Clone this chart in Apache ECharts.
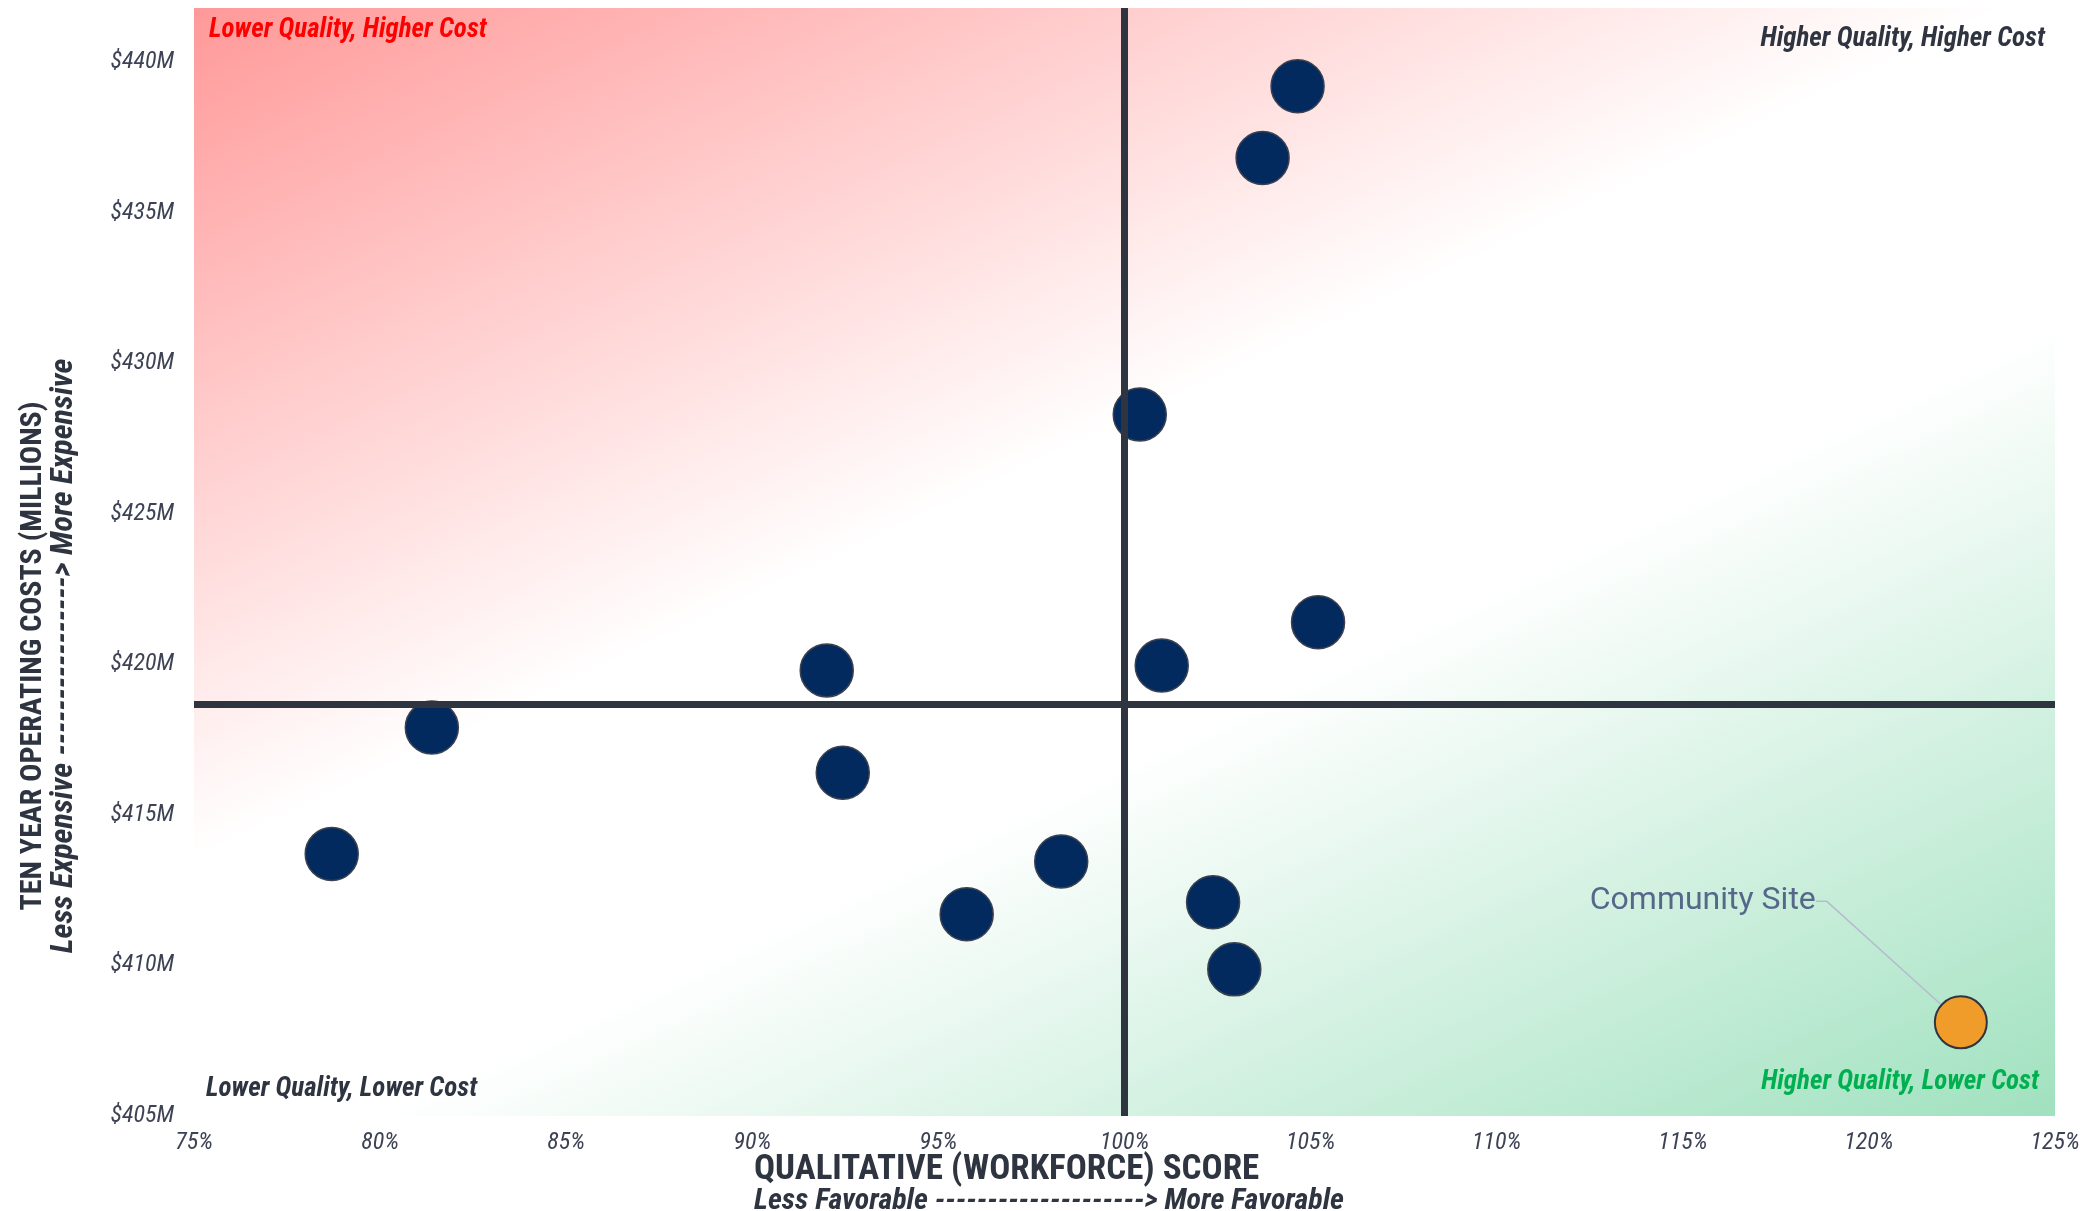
<!DOCTYPE html>
<html>
<head>
<meta charset="utf-8">
<title>Workforce Score vs Ten Year Operating Costs</title>
<script src="https://cdn.jsdelivr.net/npm/echarts@6/dist/echarts.min.js"></script>
<style>
  html, body { margin: 0; padding: 0; background: #ffffff; }
  #chart { width: 2088px; height: 1211px; }
</style>
</head>
<body>
<div id="chart"></div>
<script>
// Candidate sites: qualitative (workforce) score in %, ten year operating cost in $M
const qualityScore = [104.65, 103.71, 100.41, 105.2, 101.0, 92.0, 81.39, 92.43, 78.70, 98.3, 95.76, 102.38, 102.95];
const operatingCost = [439.2, 436.82, 428.3, 421.4, 419.96, 419.8, 417.9, 416.4, 413.70, 413.45, 411.7, 412.1, 409.87];

// Highlighted site
const communityLabel = ['Community Site'];
const communityScore = [122.47];
const communityCost = [408.11];

// Quadrant dividers
const qualityBenchmark = [100];
const costBenchmark = [418.67];

// Axis ranges and tick spacing
const xRange = [75, 125];
const xStep = 5;
const yRange = [405, 441.8];
const yStep = 5;

// Quadrant captions and axis titles
const quadrantTexts = ['Lower Quality, Higher Cost', 'Higher Quality, Higher Cost', 'Lower Quality, Lower Cost', 'Higher Quality, Lower Cost'];
const axisTitles = ['QUALITATIVE (WORKFORCE) SCORE', 'Less Favorable --------------------> More Favorable',
                    'TEN YEAR OPERATING COSTS (MILLIONS)', 'Less Expensive ----------------> More Expensive'];

const COND = "'Roboto Condensed', 'Liberation Sans Narrow', 'Arial Narrow', Roboto, sans-serif";
const INK = '#2e3440';
const TICK_INK = '#3d4354';

const chart = echarts.init(document.getElementById('chart'), null, { renderer: 'canvas' });

const pointData = qualityScore.map((x, i) => [x, operatingCost[i]]);
const communityData = communityScore.map((x, i) => ({ value: [x, communityCost[i]], name: communityLabel[i] }));

const option = {
  animation: false,
  backgroundColor: '#ffffff',
  grid: {
    left: 194, right: 33, top: 8, bottom: 95,
    show: true,
    borderWidth: 0,
    outerBoundsMode: 'none',
    // red fades out toward the costly/low-quality corner, green fades in toward the cheap/high-quality corner
    backgroundColor: new echarts.graphic.LinearGradient(0, 0, 0.41, 1.466, [
      { offset: 0, color: '#ff9999' },
      { offset: 0.43, color: '#ffffff' },
      { offset: 0.6, color: '#ffffff' },
      { offset: 1, color: '#a0e1bf' }
    ])
  },
  xAxis: {
    type: 'value',
    min: xRange[0], max: xRange[1], interval: xStep,
    axisLine: { show: false }, axisTick: { show: false }, splitLine: { show: false },
    axisLabel: {
      margin: 15,
      fontFamily: COND, fontStyle: 'italic', fontSize: 24, color: TICK_INK,
      formatter: v => v + '%'
    }
  },
  yAxis: {
    type: 'value',
    min: yRange[0], max: yRange[1], interval: yStep,
    axisLine: { show: false }, axisTick: { show: false }, splitLine: { show: false },
    axisLabel: {
      margin: 20,
      padding: [9, 0, 0, 0],
      fontFamily: COND, fontStyle: 'italic', fontSize: 24, color: TICK_INK,
      formatter: v => (Math.abs(v % yStep) < 1e-9 ? '$' + v + 'M' : '')
    }
  },
  series: [
    {
      name: 'Benchmarks',
      type: 'scatter',
      data: [],
      z: 1,
      silent: true,
      markLine: {
        silent: true,
        symbol: 'none',
        animation: false,
        label: { show: false },
        lineStyle: { color: INK, width: 7, type: 'solid' },
        data: [{ xAxis: qualityBenchmark[0] }, { yAxis: costBenchmark[0] }]
      }
    },
    {
      name: 'Sites',
      type: 'scatter',
      z: 3,
      symbol: 'circle',
      symbolSize: 53,
      itemStyle: { color: '#022a5e', borderColor: '#3b4150', borderWidth: 1.5, opacity: 1 },
      emphasis: { disabled: true },
      data: pointData
    },
    {
      name: 'Community Site',
      type: 'scatter',
      z: 4,
      symbol: 'circle',
      symbolSize: 52,
      itemStyle: { color: '#f09c2b', borderColor: INK, borderWidth: 2, opacity: 1 },
      emphasis: { disabled: true },
      label: {
        show: true,
        position: 'left',
        distance: 5,
        formatter: p => p.name,
        fontFamily: 'Roboto, sans-serif',
        fontSize: 32,
        color: '#56688a'
      },
      labelLayout: { dx: -113, dy: -121 },
      labelLine: {
        show: true,
        length2: 11,
        smooth: false,
        lineStyle: { color: '#b7bbcf', width: 1.5 }
      },
      data: communityData
    }
  ],
  graphic: [
    {
      type: 'text', x: 209, y: 30, z: 10,
      style: { text: quadrantTexts[0], fill: '#ff0000', font: 'italic bold 27px ' + COND, align: 'left', verticalAlign: 'middle' }
    },
    {
      type: 'text', x: 2045, y: 39, z: 10,
      style: { text: quadrantTexts[1], fill: INK, font: 'italic bold 27px ' + COND, align: 'right', verticalAlign: 'middle' }
    },
    {
      type: 'text', x: 206, y: 1089, z: 10,
      style: { text: quadrantTexts[2], fill: INK, font: 'italic bold 27px ' + COND, align: 'left', verticalAlign: 'middle' }
    },
    {
      type: 'text', x: 2039, y: 1082, z: 10,
      style: { text: quadrantTexts[3], fill: '#00b050', font: 'italic bold 27px ' + COND, align: 'right', verticalAlign: 'middle' }
    },
    {
      type: 'text', x: 754, y: 1170, z: 10,
      style: { text: axisTitles[0], fill: INK, font: 'bold 35px ' + COND, align: 'left', verticalAlign: 'middle' }
    },
    {
      type: 'text', x: 754, y: 1201, z: 10,
      style: { text: axisTitles[1], fill: INK, font: 'italic bold 30px ' + COND, align: 'left', verticalAlign: 'middle' }
    },
    {
      type: 'text', x: 33, y: 656, rotation: Math.PI / 2, z: 10,
      style: { text: axisTitles[2], fill: INK, font: 'bold 30px ' + COND, align: 'center', verticalAlign: 'middle' }
    },
    {
      type: 'text', x: 64, y: 656, rotation: Math.PI / 2, z: 10,
      style: { text: axisTitles[3], fill: INK, font: 'italic bold 32px ' + COND, align: 'center', verticalAlign: 'middle' }
    }
  ]
};

chart.setOption(option);
</script>
</body>
</html>
